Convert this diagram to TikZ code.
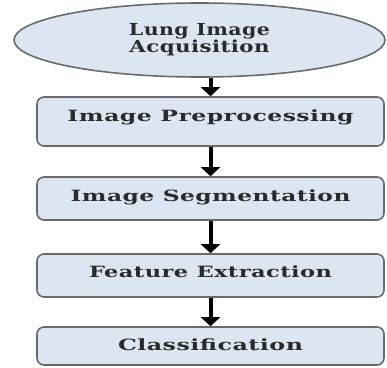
\documentclass[tikz,border=0pt]{standalone}
\usepackage{fontspec}
\setmainfont{DejaVu Serif}[LetterSpace=2]
\usetikzlibrary{arrows.meta,shapes.geometric}
\definecolor{boxfill}{HTML}{DCE6F2}
\definecolor{boxline}{HTML}{6A6A6A}
\definecolor{inktext}{HTML}{2A2A2A}
\newcommand\lbl[3]{\raisebox{#2}{\resizebox{#1}{\height}{#3}}}
\begin{document}
\begin{tikzpicture}[x=1pt,y=-1pt,
  stagebox/.style={draw=boxline, line width=1.6pt, fill=boxfill, rounded corners=7pt,
    minimum width=347pt, inner sep=0pt, text height=8pt, text depth=8pt,
    font=\fontsize{15.5}{17}\selectfont\bfseries, text=inktext},
  startbox/.style={ellipse, draw=boxline, line width=1.6pt, fill=boxfill,
    minimum width=371pt, minimum height=74pt, inner sep=0pt, align=center,
    font=\fontsize{16.5}{17}\selectfont\bfseries, text=inktext},
  flow/.style={-{Triangle[length=9pt,width=19pt]}, line width=4pt, black},
]
\useasboundingbox (0,0) rectangle (387,367);
\node[startbox] (acq) at (199.5,40) {\lbl{141pt}{0pt}{Lung Image}\\[0pt]\lbl{140pt}{0pt}{Acquisition}};
\node[stagebox, minimum height=49pt] (pre) at (210.5,121.5) {\lbl{286pt}{0.5pt}{Image Preprocessing}};
\node[stagebox, minimum height=43pt] (seg) at (210.5,198.5) {\lbl{280pt}{-2.5pt}{Image Segmentation}};
\node[stagebox, minimum height=43pt] (fea) at (210.5,275.5) {\lbl{243pt}{-1.5pt}{Feature Extraction}};
\node[stagebox, minimum height=38pt] (cls) at (210.5,346) {\lbl{185pt}{-4pt}{Classification}};
\draw[flow] (pre.north |- acq.south) -- (pre.north);
\draw[flow] (pre.south) -- (seg.north);
\draw[flow] (seg.south) -- (fea.north);
\draw[flow] (fea.south) -- (cls.north);
\end{tikzpicture}
\end{document}
